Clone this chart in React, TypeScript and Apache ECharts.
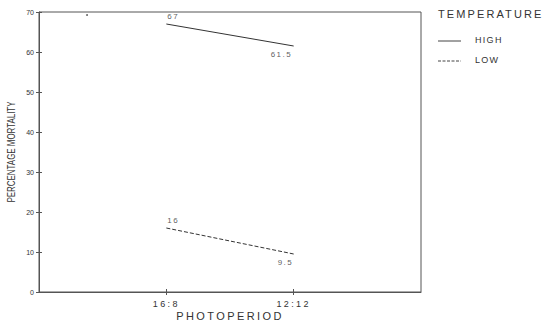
import React, { useEffect, useRef } from "react";
import * as echarts from "echarts";

// Photoperiod positions on the x axis (value axis spanning 0..3)
const photoperiods = ["16:8", "12:12"];
const photoperiodX = [1, 2];

// Percentage mortality per temperature treatment
const highMortality = [67, 61.5];
const lowMortality = [16, 9.5];

const yTicks = [0, 10, 20, 30, 40, 50, 60, 70];

const INK = "#333333";
const AXIS = "#555555";
const FONT = "'Liberation Sans', 'DejaVu Sans', sans-serif";

// Letter spacing for the typewriter-like lettering (applied to the SVG text nodes)
const SPACING: Record<string, string> = {
  PHOTOPERIOD: "2.4px",
  "16:8": "2.4px",
  "12:12": "2.4px",
  TEMPERATURE: "2.1px",
  HIGH: "1.3px",
  LOW: "1.3px",
  "67": "1.5px",
  "61.5": "1.5px",
  "16": "1.5px",
  "9.5": "1.5px",
};
// The vertical axis title is set in a condensed face
const CONDENSED: Record<string, number> = { "PERCENTAGE MORTALITY": 101 };

export default function App() {
  const ref = useRef<HTMLDivElement>(null);

  useEffect(() => {
    if (!ref.current) return;
    const el = ref.current;
    const chart = echarts.init(el, undefined, { renderer: "svg" });

    const toPoints = (vals: number[]) => vals.map((v, i) => [photoperiodX[i], v]);
    const photoLabel = (v: number) => {
      const i = photoperiodX.indexOf(v);
      return i >= 0 ? photoperiods[i] : "";
    };

    const applySpacing = () => {
      el.querySelectorAll("text").forEach((t) => {
        const key = (t.textContent || "").trim();
        const s = SPACING[key];
        if (s) t.setAttribute("letter-spacing", s);
        const len = CONDENSED[key];
        if (len) {
          t.setAttribute("textLength", String(len));
          t.setAttribute("lengthAdjust", "spacingAndGlyphs");
        }
      });
    };
    chart.on("finished", applySpacing);

    chart.setOption({
      animation: false,
      backgroundColor: "#ffffff",
      grid: {
        left: 39,
        top: 12,
        right: 128,
        bottom: 30,
        outerBoundsMode: "none",
        containLabel: false,
        show: true,
        borderColor: AXIS,
        borderWidth: 1,
      },
      xAxis: [
        {
          type: "value",
          min: 0,
          max: 3,
          interval: 1,
          name: "PHOTOPERIOD",
          nameLocation: "middle",
          nameGap: 18,
          nameMoveOverlap: false,
          nameTextStyle: { color: INK, fontFamily: FONT, fontSize: 11 },
          axisLine: { show: true, lineStyle: { color: AXIS, width: 1 } },
          axisTick: { show: true, length: 3, lineStyle: { color: AXIS }, customValues: photoperiodX },
          axisLabel: {
            color: INK,
            fontFamily: FONT,
            fontSize: 9,
            margin: 7,
            customValues: photoperiodX,
            formatter: photoLabel,
          },
          splitLine: { show: false },
        },
        {
          // inner half of the crossing tick marks
          type: "value",
          position: "bottom",
          min: 0,
          max: 3,
          interval: 1,
          axisLine: { show: false },
          axisTick: { show: true, inside: true, length: 3, lineStyle: { color: AXIS }, customValues: photoperiodX },
          axisLabel: { show: false },
          splitLine: { show: false },
        },
      ],
      yAxis: [
        {
          type: "value",
          min: 0,
          max: 70,
          interval: 10,
          name: "PERCENTAGE MORTALITY",
          nameLocation: "middle",
          nameGap: 23,
          nameMoveOverlap: false,
          nameTextStyle: { color: INK, fontFamily: FONT, fontSize: 10 },
          axisLine: { show: true, lineStyle: { color: AXIS, width: 1 } },
          axisTick: { show: true, length: 3, lineStyle: { color: AXIS } },
          axisLabel: {
            color: INK,
            fontFamily: FONT,
            fontSize: 7,
            margin: 5,
            formatter: (v: number) => (yTicks.includes(v) ? String(v) : ""),
          },
          splitLine: { show: false },
        },
        {
          type: "value",
          position: "left",
          min: 0,
          max: 70,
          interval: 10,
          axisLine: { show: false },
          axisTick: { show: true, inside: true, length: 3, lineStyle: { color: AXIS } },
          axisLabel: { show: false },
          splitLine: { show: false },
        },
      ],
      series: [
        {
          name: "HIGH",
          type: "line",
          data: toPoints(highMortality),
          symbol: "none",
          lineStyle: { color: "#333", width: 1, type: "solid" },
        },
        {
          name: "LOW",
          type: "line",
          data: toPoints(lowMortality),
          symbol: "none",
          lineStyle: { color: "#333", width: 1, type: [4, 2] },
        },
        {
          // value labels at each end point
          type: "scatter",
          symbolSize: 0,
          itemStyle: { color: INK },
          data: [
            { value: [photoperiodX[0], highMortality[0]], label: { position: [1, -12] } },
            { value: [photoperiodX[1], highMortality[1]], label: { position: [-23, 4] } },
            { value: [photoperiodX[0], lowMortality[0]], label: { position: [1, -12] } },
            { value: [photoperiodX[1], lowMortality[1]], label: { position: [-16, 4] } },
          ],
          label: {
            show: true,
            color: INK,
            fontFamily: FONT,
            fontSize: 8,
            formatter: (p: any) => String(p.value[1]),
          },
          silent: true,
        },
      ],
      graphic: [
        { type: "text", left: 438, top: 8, style: { text: "TEMPERATURE", fill: INK, font: `11px ${FONT}` } },
        { type: "line", shape: { x1: 438, y1: 41, x2: 461, y2: 41 }, style: { stroke: "#444", lineWidth: 1 } },
        { type: "text", left: 475, top: 35, style: { text: "HIGH", fill: INK, font: `9px ${FONT}` } },
        { type: "line", shape: { x1: 438, y1: 61, x2: 461, y2: 61 }, style: { stroke: "#444", lineWidth: 1, lineDash: [3, 1.5] } },
        { type: "text", left: 475, top: 55, style: { text: "LOW", fill: INK, font: `9px ${FONT}` } },
        { type: "circle", shape: { cx: 87, cy: 15, r: 0.9 }, style: { fill: "#555" } },
      ],
    });
    applySpacing();

    return () => chart.dispose();
  }, []);

  return (
    <div
      ref={ref}
      style={{ position: "fixed", left: 0, top: 0, width: 549, height: 322 }}
    />
  );
}
